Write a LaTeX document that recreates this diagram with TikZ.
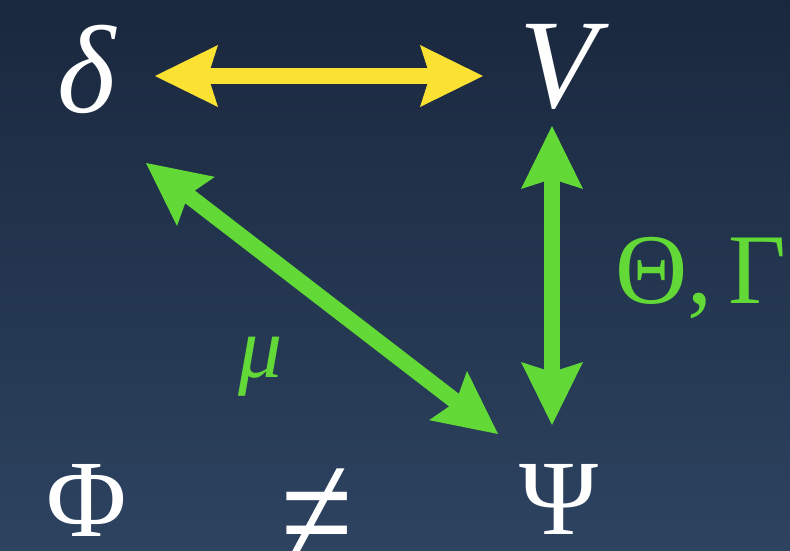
\documentclass[tikz,border=0pt]{standalone}
\usepackage{fontspec}
\usepackage{graphicx}
\setmainfont{Liberation Serif}
\usetikzlibrary{arrows.meta}
\definecolor{bgtop}{RGB}{26,40,62}
\definecolor{bgbot}{RGB}{45,67,96}
\definecolor{arrgreen}{RGB}{98,217,54}
\definecolor{arryellow}{RGB}{251,226,50}
\tikzset{
  sym/.style={inner sep=0pt, outer sep=0pt, text=white, anchor=base, text depth=0pt},
  lab/.style={inner sep=0pt, outer sep=0pt, text=arrgreen},
  dblarrow/.style={line width=16pt,
    {Stealth[length=63pt,width=62pt,inset=10pt,line width=0pt]}-{Stealth[length=63pt,width=62pt,inset=10pt,line width=0pt]}},
}
\begin{document}
\begin{tikzpicture}[x=1pt,y=-1pt]
  \shade[top color=bgtop, bottom color=bgbot] (0,0) rectangle (790,551);
  \useasboundingbox (0,0) rectangle (790,551);
  % symbols
  \node[sym] (d) at (87,113) {\fontsize{125}{125}\selectfont\itshape δ};
  \node[sym] (v) at (558,107) {\fontsize{127}{127}\selectfont\itshape V};
  \node[sym] (phi) at (87,536) {\fontsize{110}{110}\selectfont Φ};
  \node[sym] (ne) at (317,569) {\fontsize{130}{130}\selectfont\scalebox{1}[1.3]{≠}};
  \node[sym] (psi) at (559,534) {\fontsize{107}{107}\selectfont Ψ};
  % labels
  \node[lab, anchor=base] (mu) at (261,377) {\fontsize{88}{88}\selectfont\itshape μ};
  \node[lab, anchor=base west] (tg) at (615,303) {\fontsize{100}{100}\selectfont Θ,\,Γ};
  % arrow end points
  \coordinate (dR) at (155,76);
  \coordinate (vL) at (483,76);
  \coordinate (vB) at (552,126);
  \coordinate (psiT) at (552,425);
  \coordinate (dD) at (146,163);
  \coordinate (psiD) at (498,434);
  % connectors
  \draw[dblarrow, arryellow] (dR) -- (vL);
  \draw[dblarrow, arrgreen] (vB) -- (psiT);
  \draw[dblarrow, arrgreen] (dD) -- (psiD);
\end{tikzpicture}
\end{document}
